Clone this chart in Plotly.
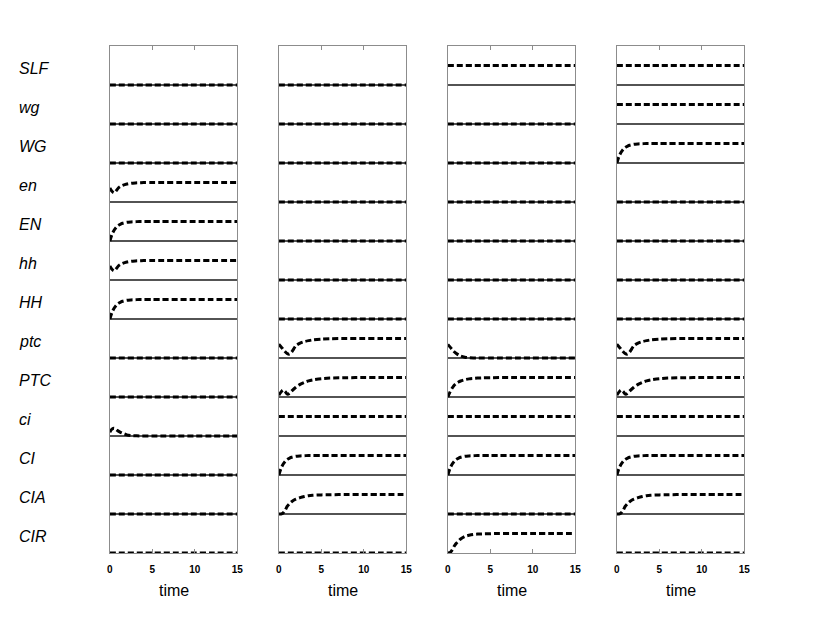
import plotly.graph_objects as go

# the html body has an 8px margin; keep the figure smaller than the window so nothing overflows
PAD = 8
W, H = 770, 596

variables = ["SLF", "wg", "WG", "en", "EN", "hh", "HH", "ptc", "PTC", "ci", "CI", "CIA", "CIR"]
time = [0, 0.25, 0.5, 0.75, 1, 1.25, 1.5, 2, 2.5, 3, 3.5, 4, 5, 6, 8, 10, 12, 15]
x_ticks = [0, 5, 10, 15]

# trajectories (normalised level 0..1)
off          = [0, 0, 0, 0, 0, 0, 0, 0, 0, 0, 0, 0, 0, 0, 0, 0, 0, 0]
on           = [1, 1, 1, 1, 1, 1, 1, 1, 1, 1, 1, 1, 1, 1, 1, 1, 1, 1]
rise         = [0, 0.33, 0.55, 0.70, 0.80, 0.86, 0.91, 0.96, 0.98, 0.99, 1, 1, 1, 1, 1, 1, 1, 1]
rise_slow    = [0, 0.25, 0.45, 0.60, 0.70, 0.77, 0.82, 0.89, 0.93, 0.95, 0.97, 0.98, 0.99, 1, 1, 1, 1, 1]
dip_rise     = [0.72, 0.55, 0.47, 0.58, 0.72, 0.80, 0.85, 0.92, 0.96, 0.98, 0.99, 1, 1, 1, 1, 1, 1, 1]
bump         = [0.2, 0.35, 0.4, 0.33, 0.25, 0.19, 0.14, 0.06, 0.02, 0.01, 0, 0, 0, 0, 0, 0, 0, 0]
ptc_dip      = [0.7, 0.58, 0.45, 0.32, 0.22, 0.2, 0.3, 0.62, 0.76, 0.84, 0.89, 0.93, 0.97, 0.99, 1, 1, 1, 1]
ptc_wiggle   = [0.1, 0.25, 0.36, 0.28, 0.15, 0.18, 0.3, 0.5, 0.65, 0.75, 0.83, 0.88, 0.94, 0.97, 0.99, 1, 1, 1]
decay        = [0.7, 0.57, 0.44, 0.32, 0.23, 0.16, 0.1, 0.04, 0.01, 0, 0, 0, 0, 0, 0, 0, 0, 0]
delayed_rise = [0, 0, 0.05, 0.2, 0.4, 0.53, 0.63, 0.76, 0.84, 0.9, 0.94, 0.96, 0.98, 0.99, 1, 1, 1, 1]
late_rise    = [0, 0.02, 0.15, 0.35, 0.5, 0.62, 0.72, 0.85, 0.91, 0.95, 0.97, 0.98, 0.99, 1, 1, 1, 1, 1]

column1 = [off, off, off, dip_rise, rise, dip_rise, rise, off, off, bump, off, off, off]
column2 = [off, off, off, off, off, off, off, ptc_dip, ptc_wiggle, on, rise, delayed_rise, off]
column3 = [on, off, off, off, off, off, off, decay, rise_slow, on, rise, off, late_rise]
column4 = [on, on, rise, off, off, off, off, ptc_dip, ptc_wiggle, on, rise, delayed_rise, off]
columns = [column1, column2, column3, column4]

# layout in page pixels
col_left = [108, 279, 450, 621]
col_width = 129
top_px, bottom_px = 46, 553
n = len(variables)
frame = "#8c8c8c"


def px_x(p):
    return (p - PAD) / W


def px_y(p):
    return 1 - (p - PAD) / H


fig = go.Figure()
for c, col in enumerate(columns):
    xa = "x" if c == 0 else f"x{c+1}"
    ya = "y" if c == 0 else f"y{c+1}"
    for k in range(1, n):
        fig.add_shape(type="line", xref=xa, yref=ya, x0=0, x1=15, y0=k, y1=k,
                      line=dict(color="#1a1a1a", width=1.3), layer="below")
    for i, series in enumerate(col):
        base = n - 1 - i
        fig.add_trace(go.Scatter(
            x=time, y=[base + 0.5 * v for v in series],
            mode="lines", line=dict(color="black", width=3, dash="6px,3px", shape="spline", smoothing=0.8),
            xaxis=xa, yaxis=ya, showlegend=False, hoverinfo="skip", cliponaxis=False))
    sfx = "" if c == 0 else str(c + 1)
    fig.update_layout(**{
        f"xaxis{sfx}": dict(domain=[px_x(col_left[c]), px_x(col_left[c] + col_width)], range=[0, 15],
                            anchor=ya, tickvals=x_ticks, ticks="inside", ticklen=4, tickcolor=frame,
                            showline=True, linecolor=frame, linewidth=1, mirror="ticks",
                            showgrid=False, zeroline=False, ticklabelstandoff=7,
                            tickfont=dict(family="Liberation Sans, Arial", size=10, color="black",
                                          weight="bold")),
        f"yaxis{sfx}": dict(domain=[px_y(bottom_px), px_y(top_px)], range=[0, n], anchor=xa,
                            showticklabels=False, ticks="", showline=True, linecolor=frame,
                            linewidth=1, mirror=True, showgrid=False, zeroline=False),
    })
    fig.add_annotation(text="time", xref="paper", yref="paper",
                       x=px_x(col_left[c] + col_width / 2), y=px_y(590),
                       xanchor="center", yanchor="middle", showarrow=False,
                       font=dict(family="Liberation Sans, Arial", size=16, color="black"))

for i, name in enumerate(variables):
    base = n - 1 - i
    fig.add_annotation(text=f"<i>{name}</i>", xref="paper", yref="y", x=px_x(14), y=base + 0.42,
                       xanchor="left", yanchor="middle", showarrow=False,
                       font=dict(family="Liberation Sans, Arial", size=16, color="black"))

fig.update_layout(width=W, height=H, margin=dict(l=0, r=0, t=0, b=0), autosize=False,
                  plot_bgcolor="white", paper_bgcolor="white")
fig.write_html("out.html")
